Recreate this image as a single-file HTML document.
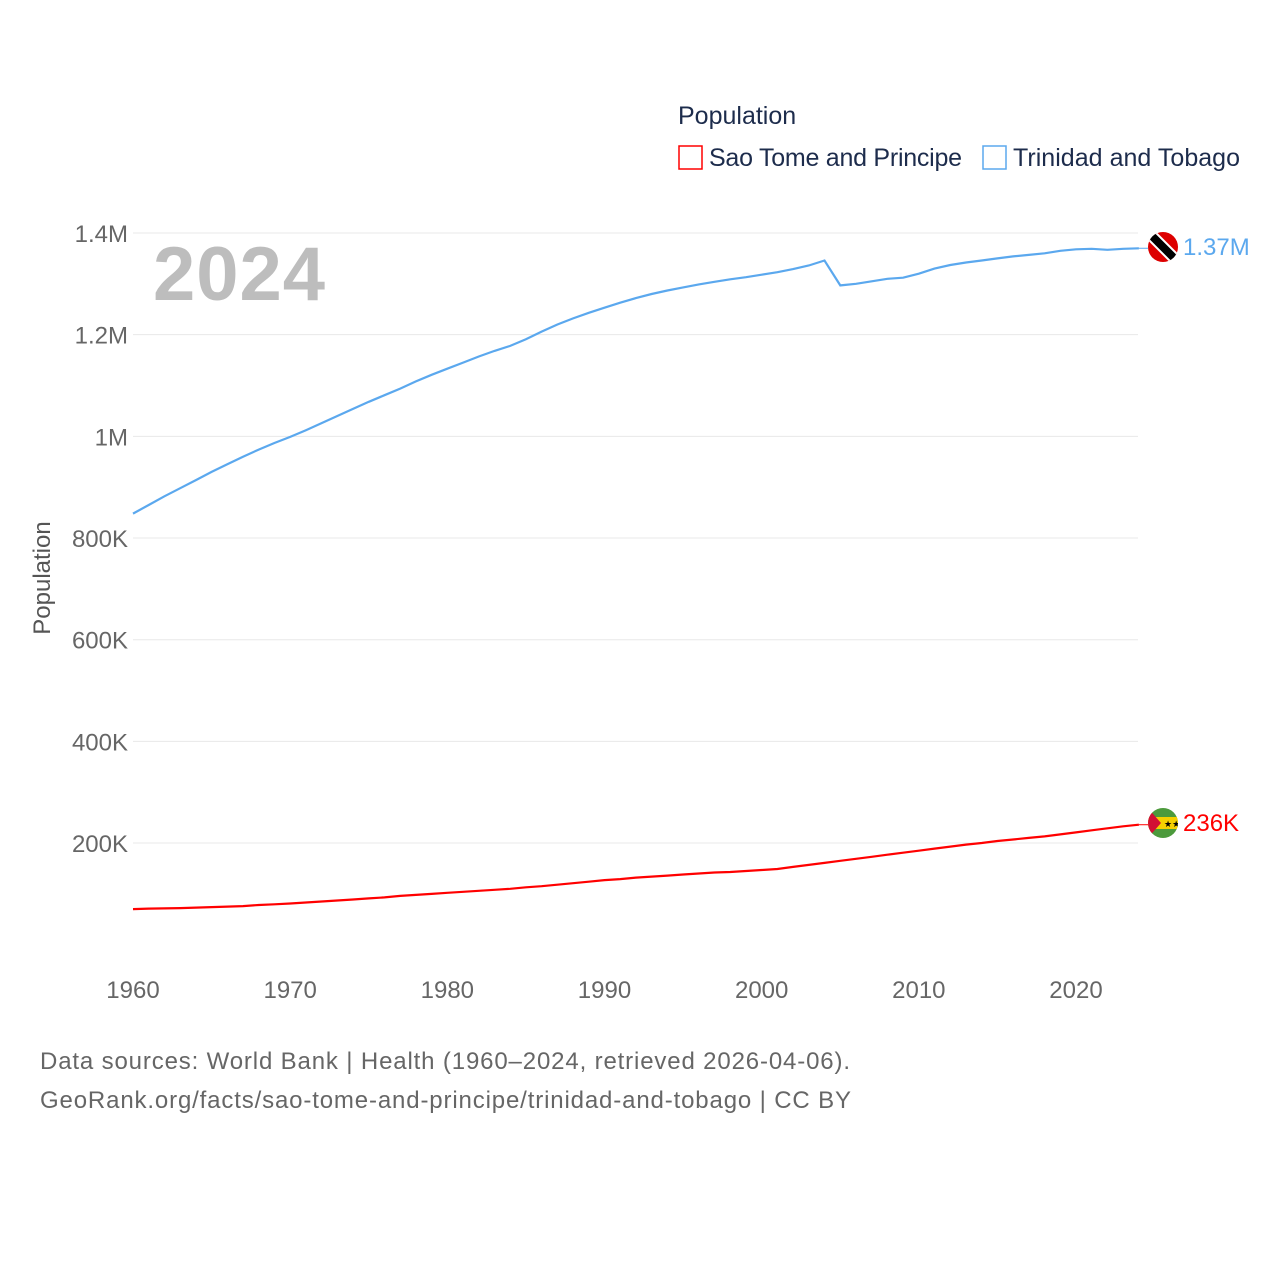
<!DOCTYPE html>
<html><head><meta charset="utf-8"><style>
body{margin:0;background:#fff;width:1280px;height:1280px;overflow:hidden;font-family:"Liberation Sans",sans-serif}
svg text{font-family:"Liberation Sans",sans-serif}
</style></head><body>
<svg id="chart" width="1280" height="1280">
<text x="678" y="124" font-size="25" fill="#1d2c4c">Population</text>
<g><rect x="679" y="146" width="23" height="23" fill="none" stroke="#f00" stroke-width="1.5"/><text x="709" y="166" font-size="25" fill="#1d2c4c" textLength="253">Sao Tome and Principe</text></g>
<g><rect x="983" y="146" width="23" height="23" fill="none" stroke="#5ba8ee" stroke-width="1.5"/><text x="1013" y="166" font-size="25" fill="#1d2c4c" textLength="227">Trinidad and Tobago</text></g>
<text x="153" y="300" font-size="76" font-weight="bold" fill="#bdbdbd" textLength="172">2024</text>
<text transform="translate(50,578) rotate(-90)" text-anchor="middle" font-size="24" fill="#555">Population</text>
<g id="grid"></g><g id="yticks"></g><g id="xticks"></g><g id="lines"></g>
<g>
<clipPath id="c1"><circle cx="1163" cy="247" r="15"/></clipPath>
<g clip-path="url(#c1)"><rect x="1145" y="229" width="36" height="36" fill="#d00"/><line x1="1146" y1="230" x2="1180" y2="264" stroke="#fff" stroke-width="12"/><line x1="1146" y1="230" x2="1180" y2="264" stroke="#000" stroke-width="8"/></g></g>
<g>
<clipPath id="c2"><circle cx="1163" cy="823" r="15"/></clipPath>
<g clip-path="url(#c2)"><rect x="1145" y="805" width="36" height="36" fill="#4c9a3c"/><rect x="1145" y="817" width="36" height="12" fill="#f5d000"/><polygon points="1147,807 1161,823 1147,839" fill="#d21034"/><text x="1164" y="827" font-size="9" fill="#000">★★</text></g></g>
<text x="1183" y="255" font-size="24" fill="#5ba8ee">1.37M</text>
<text x="1183" y="831" font-size="24" fill="#f00">236K</text>
<text x="40" y="1069" font-size="24" fill="#666" textLength="810">Data sources: World Bank | Health (1960–2024, retrieved 2026-04-06).</text>
<text x="40" y="1108" font-size="24" fill="#666" textLength="811">GeoRank.org/facts/sao-tome-and-principe/trinidad-and-tobago | CC BY</text>
</svg>
<script>
const years=[];for(let y=1960;y<=2024;y++)years.push(y);
const trinidad=[848,865,882,898,914,930,945,960,974,987,999,1012,1026,1040,1054,1068,1081,1094,1108,1121,1133,1145,1157,1168,1178,1191,1206,1220,1232,1243,1253,1263,1272,1280,1287,1293,1299,1304,1309,1313,1318,1323,1329,1336,1346,1297,1300,1305,1310,1312,1320,1330,1337,1342,1346,1350,1354,1357,1360,1365,1368,1369,1367,1369,1370];
const saoTome=[70,71,71.5,72,73,74,75,76,78,79.5,81,83,85,87,89,91,93,96,98,100,102,104,106,108,110,113,115,118,121,124,127,129,132,134,136,138,140,142,143,145,147,149,153,157,161,165,169,173,177,181,185,189,193,197,200,204,207,210,213,217,221,225,229,233,236];
const yTicks=[200,400,600,800,1000,1200,1400];
const yTickLabels=["200K","400K","600K","800K","1M","1.2M","1.4M"];
const xTicks=[1960,1970,1980,1990,2000,2010,2020];
const NS="http://www.w3.org/2000/svg";
const X=y=>133+(y-1960)*943/60;
const Y=v=>944.7-v*101.67/200;
function mk(t,a,p){const e=document.createElementNS(NS,t);for(const k in a)e.setAttribute(k,a[k]);document.getElementById(p).appendChild(e);return e;}
yTicks.forEach((v,i)=>{
 const l=mk('line',{x1:133,x2:1138,y1:Y(v),y2:Y(v),stroke:'#e8e8e8','stroke-width':1},'grid');
 
 
 const t=mk('text',{x:128,y:Y(v)+9,'text-anchor':'end','font-size':24,fill:'#666'},'yticks');
 t.textContent=yTickLabels[i];
 
 
});
xTicks.forEach(v=>{
 const t=mk('text',{x:X(v),y:998,'text-anchor':'middle','font-size':24,fill:'#666'},'xticks');
 t.textContent=v;
 
 
});
function line(data,color,name){
 const d=data.map((v,i)=>(i?'L':'M')+X(years[i]).toFixed(1)+','+Y(v).toFixed(1)).join('');
 const p=mk('path',{d:d,fill:'none',stroke:color,'stroke-width':2.2},'lines');
 
 
 const n=data.length-1;
 mk('line',{x1:X(years[n]),y1:Y(data[n]),x2:1148,y2:Y(data[n]),stroke:color,'stroke-width':1},'lines');
}
line(trinidad,'#5ba8ee','trinidad-line');
line(saoTome,'#f00','sao-tome-line');
</script>
</body></html>
